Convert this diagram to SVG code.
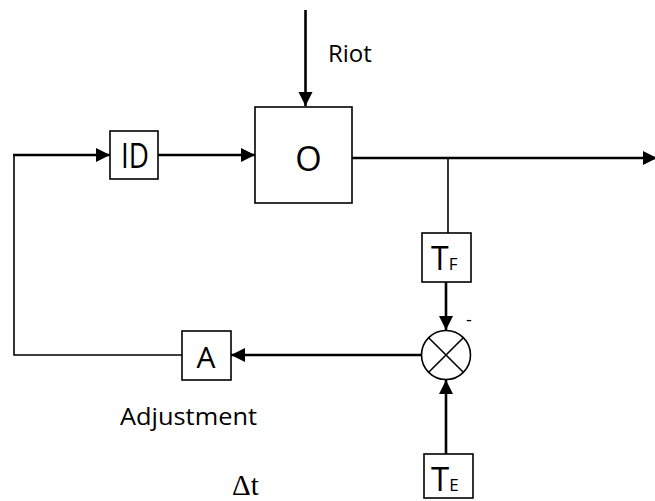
<svg xmlns="http://www.w3.org/2000/svg" width="655" height="501" viewBox="0 0 655 501">
<defs>
<marker id="ah" markerUnits="userSpaceOnUse" markerWidth="15" markerHeight="15" refX="14" refY="7" orient="auto">
<path d="M0,0 L14,7 L0,14 z" fill="#000"/>
</marker>
<style>
.box{fill:#fff;stroke:#000;stroke-width:1.6}
.thick{fill:none;stroke:#000;stroke-width:2.6}
.thin{fill:none;stroke:#000;stroke-width:1.6}
.lbl{font-family:"Open Sans","Liberation Sans",sans-serif;fill:#000}
</style>
</defs>
<rect width="655" height="501" fill="#fff"/>
<g id="connectors">
<line class="thick" x1="305.5" y1="10" x2="305.5" y2="106" marker-end="url(#ah)"/>
<polyline class="thin" points="182,355 14,355 14,155"/>
<line class="thick" x1="13" y1="155" x2="110" y2="155" marker-end="url(#ah)"/>
<line class="thick" x1="158" y1="155" x2="255" y2="155" marker-end="url(#ah)"/>
<line class="thick" x1="352" y1="158" x2="657" y2="158" marker-end="url(#ah)"/>
<line class="thin" x1="448" y1="158" x2="448" y2="233"/>
<line class="thick" x1="446" y1="282" x2="446" y2="330" marker-end="url(#ah)"/>
<line class="thick" x1="446" y1="454" x2="446" y2="380" marker-end="url(#ah)"/>
<line class="thick" x1="421.5" y1="355" x2="231" y2="355" marker-end="url(#ah)"/>
</g>
<g id="riot"><text class="lbl" x="328" y="62" font-size="24">Riot</text></g>
<g id="O">
<rect class="box" x="255" y="107" width="97" height="96"/>
<text class="lbl" x="308.5" y="171" font-size="34" text-anchor="middle">O</text>
</g>
<g id="ID">
<rect class="box" x="110" y="131" width="48" height="48"/>
<text class="lbl" x="135" y="168" font-size="34" text-anchor="middle" textLength="28" lengthAdjust="spacingAndGlyphs">ID</text>
</g>
<g id="TF">
<rect class="box" x="422" y="233" width="49" height="49"/>
<text class="lbl" x="431" y="270" font-size="32">T<tspan font-size="17">F</tspan></text>
</g>
<g id="comparator">
<circle class="thin" cx="446" cy="355" r="24.5" fill="#fff"/>
<line class="thin" x1="428.7" y1="337.7" x2="463.3" y2="372.3"/>
<line class="thin" x1="463.3" y1="337.7" x2="428.7" y2="372.3"/>
<text class="lbl" x="466" y="326" font-size="18">-</text>
</g>
<g id="A">
<rect class="box" x="182" y="331" width="49" height="49"/>
<text class="lbl" x="206" y="368" font-size="30" text-anchor="middle">A</text>
</g>
<g id="adjustment"><text class="lbl" x="120" y="425" font-size="24" textLength="137" lengthAdjust="spacingAndGlyphs">Adjustment</text></g>
<g id="dt"><text x="232" y="495" font-family="'Liberation Serif',serif" font-size="29">Δt</text></g>
<g id="TE">
<rect class="box" x="424" y="454" width="49" height="44"/>
<text class="lbl" x="431" y="491" font-size="33">T<tspan font-size="17">E</tspan></text>
</g>
</svg>
